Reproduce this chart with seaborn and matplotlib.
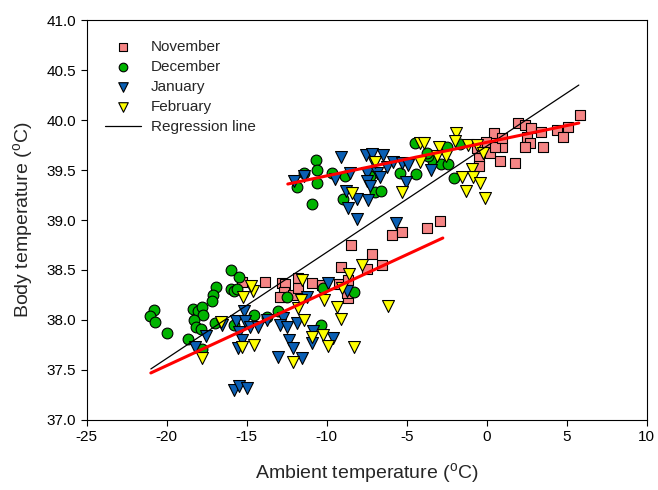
import matplotlib
matplotlib.use("Agg")
import matplotlib.pyplot as plt
import seaborn as sns
import pandas as pd

# ---- data ----
nov_x = [-15.31, -13.88, -12.81, -12.81, -12.63, -11.81, -10.94, -10.31, -9.25, -8.69,
         -9.13, -8.50, -7.50, -7.19, -6.56, -5.94, -5.31, -3.75, -2.94, -12.69,
         -12.13, -12.94, -8.69, -11.81, -8.75,
         5.81, 1.94, 2.38, 2.75, 3.38, 4.38, 5.06, 4.75, 0.44, 2.50,
         2.69, 2.38, 3.50, 1.75, 0.81, 0.94, -0.06, 0.19, -0.50, -0.50,
         -0.63, 0.50, 0.94]
nov_y = [38.38, 38.38, 38.37, 38.23, 38.36, 38.42, 38.37, 38.35, 38.36, 38.40,
         38.53, 38.75, 38.51, 38.66, 38.55, 38.85, 38.88, 38.92, 38.99, 38.28,
         38.25, 38.23, 38.22, 38.32, 38.27,
         40.05, 39.97, 39.95, 39.92, 39.88, 39.90, 39.93, 39.83, 39.87, 39.83,
         39.77, 39.73, 39.73, 39.57, 39.59, 39.73, 39.78, 39.67, 39.62, 39.54,
         39.72, 39.73, 39.82]

dec_x = [-16.0, -15.5, -16.94, -17.13, -17.19, -16.0, -15.81, -15.63, -20.81, -21.06,
         -20.75, -20.0, -18.38, -18.06, -17.81, -17.75, -18.31, -18.19, -17.88, -17.0,
         -15.81, -18.69, -17.81, -14.56, -13.75, -13.06, -12.5, -10.25, -8.31, -10.38,
         -10.69, -11.44, -11.88, -10.63, -10.63, -10.94, -9.69, -8.88, -9.0, -7.0,
         -6.63, -7.31, -5.44, -4.44, -4.5, -3.38, -2.88, -2.44, -2.06, -3.69,
         -2.5, -1.69, -3.75]
dec_y = [38.50, 38.43, 38.33, 38.25, 38.19, 38.31, 38.29, 38.31, 38.10, 38.04,
         37.98, 37.87, 38.11, 38.09, 38.13, 38.05, 38.00, 37.93, 37.91, 37.97,
         37.95, 37.81, 37.71, 38.05, 38.03, 38.09, 38.23, 38.32, 38.28, 37.95,
         39.60, 39.47, 39.33, 39.50, 39.37, 39.16, 39.47, 39.44, 39.21, 39.28,
         39.29, 39.44, 39.47, 39.46, 39.77, 39.59, 39.56, 39.56, 39.42, 39.64,
         39.73, 39.76, 39.67]

jan_x = [-12.06, -11.44, -9.13, -9.5, -8.56, -7.56, -7.19, -6.5, -7.06, -7.5,
         -6.88, -6.69, -7.5, -7.31, -6.25, -5.88, -5.31, -4.94, -5.06, -8.81,
         -8.13, -7.44, -8.69, -8.13, -5.69, -3.5,
         -15.81, -15.5, -15.0, -17.56, -18.25, -16.56, -15.69, -15.19, -15.13, -15.5,
         -15.31, -15.56, -14.81, -14.31, -13.75, -13.06, -12.75, -12.94, -12.5, -11.88,
         -11.25, -9.94, -8.75, -10.88, -10.94, -9.63, -12.38, -12.13, -11.56]
jan_y = [39.39, 39.44, 39.63, 39.41, 39.47, 39.65, 39.66, 39.65, 39.57, 39.47,
         39.47, 39.43, 39.39, 39.34, 39.53, 39.58, 39.57, 39.55, 39.38, 39.29,
         39.21, 39.20, 39.12, 39.01, 38.97, 39.50,
         37.30, 37.34, 37.32, 37.84, 37.73, 37.95, 37.99, 38.09, 37.99, 37.88,
         37.80, 37.72, 37.93, 37.93, 38.00, 37.63, 38.02, 37.95, 37.93, 37.97,
         38.23, 38.37, 38.29, 37.89, 37.77, 37.82, 37.80, 37.72, 37.62]

feb_x = [-17.81, -16.63, -15.25, -14.63, -14.75, -15.31, -14.56, -11.56, -11.63, -11.81,
         -10.19, -9.38, -9.13, -11.44, -10.94, -10.25, -9.94, -8.31, -12.13, -7.81,
         -8.63, -9.06, -6.19,
         -7.0, -8.44, -5.31, -4.19, -4.19, -3.94, -3.0, -2.56, -3.13, -1.94,
         -2.0, -1.19, -0.63, -0.25, -0.94, -1.56, -0.88, -0.44, -1.31, -0.13]
feb_y = [37.62, 37.98, 38.23, 38.29, 38.34, 37.73, 37.75, 38.40, 38.20, 38.12,
         38.20, 38.13, 38.01, 38.00, 37.83, 37.85, 37.74, 37.73, 37.58, 38.55,
         38.46, 38.32, 38.14,
         39.58, 39.27, 39.28, 39.58, 39.77, 39.77, 39.73, 39.64, 39.64, 39.87,
         39.79, 39.75, 39.75, 39.67, 39.51, 39.43, 39.43, 39.37, 39.29, 39.22]

reg_x = [-21.0, 5.75]
reg_y = [37.51, 40.35]
red_low_x = [-21.0, -2.75]
red_low_y = [37.47, 38.82]
red_up_x = [-12.44, 5.75]
red_up_y = [39.36, 39.97]

months = ["November", "December", "January", "February"]
xticks = [-25, -20, -15, -10, -5, 0, 5, 10]
yticks = [37.0, 37.5, 38.0, 38.5, 39.0, 39.5, 40.0, 40.5, 41.0]

# ---- styling ----
sns.set_style("ticks")
plt.rcParams["font.family"] = ["Liberation Sans", "DejaVu Sans"]
plt.rcParams["axes.linewidth"] = 0.8
plt.rcParams["axes.unicode_minus"] = False

fig = plt.figure(figsize=(6.58, 4.90), dpi=100)
ax = fig.add_axes([0.132, 0.143, 0.851, 0.816])

series = [
    (nov_x, nov_y, "November", "s", "#F58585", 60),
    (dec_x, dec_y, "December", "o", "#00B400", 60),
    (jan_x, jan_y, "January", "v", "#0A5FB4", 74),
    (feb_x, feb_y, "February", "v", "#FFFF00", 74),
]
for xs, ys, lab, mk, col, sz in series:
    df = pd.DataFrame({"x": xs, "y": ys})
    sns.scatterplot(data=df, x="x", y="y", ax=ax, marker=mk, color=col, s=sz,
                    edgecolor="black", linewidth=0.8, label=lab, zorder=2)

sns.lineplot(x=reg_x, y=reg_y, ax=ax, color="black", linewidth=0.9,
             label="Regression line", zorder=3)
ax.plot(red_low_x, red_low_y, color="#FF0000", linewidth=2.2, zorder=4)
ax.plot(red_up_x, red_up_y, color="#FF0000", linewidth=2.2, zorder=4)

ax.set_xlim(-25, 10)
ax.set_ylim(37, 41)
ax.set_xticks(xticks)
ax.set_yticks(yticks)
ax.set_yticklabels([f"{v:.1f}" for v in yticks])
ax.tick_params(direction="out", length=4, width=0.8, labelsize=11, colors="black")
for sp in ax.spines.values():
    sp.set_visible(True)
    sp.set_color("black")

ax.set_xlabel(r"Ambient temperature ($^{\mathregular{o}}$C)", fontsize=14, labelpad=12)
ax.set_ylabel(r"Body temperature ($^{\mathregular{o}}$C)", fontsize=14, labelpad=8)

leg = ax.legend(loc="upper left", frameon=False, fontsize=11, bbox_to_anchor=(0.008, 0.985),
                handlelength=2.35, handletextpad=0.65, labelspacing=0.4, markerscale=0.8)

fig.savefig("out.png", dpi=100)
